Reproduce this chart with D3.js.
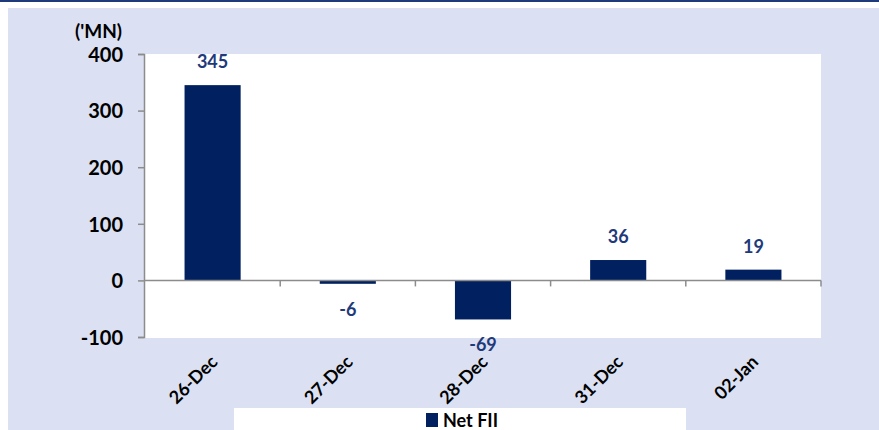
<!DOCTYPE html>
<html><head><meta charset="utf-8">
<script src="https://cdn.jsdelivr.net/npm/d3@7"></script>
<style>
html,body{margin:0;padding:0;background:#fff;}
svg{display:block;font-family:Lato,"Open Sans",sans-serif;}
</style></head>
<body>
<svg id="c" width="879" height="430"></svg>
<script>
const categories = ["26-Dec","27-Dec","28-Dec","31-Dec","02-Jan"];
const netFII = [345,-6,-69,36,19];
const yTicks = [-100,0,100,200,300,400];
const seriesName = "Net FII";
const unitLabel = "('MN)";

const svg = d3.select("#c");
const W = 879, H = 430;
const navy = "#002060";
const bg = "#dbe1f2";
const fmt = d => String(d); // plain hyphen minus

svg.append("rect").attr("x",0).attr("y",0).attr("width",W).attr("height",2).attr("fill","#1f3a7a");
svg.append("rect").attr("x",8).attr("y",8).attr("width",W-8).attr("height",H-8).attr("fill",bg);

const plot = {l:145, r:821, t:54, b:338};
const x = d3.scaleBand().domain(categories).range([plot.l, plot.r]).paddingInner(0.585).paddingOuter(0.2925);
const xb = d3.scaleBand().domain(categories).range([plot.l, plot.r]);
const y = d3.scaleLinear().domain([-100,400]).range([plot.b-1, plot.t]);

svg.append("rect").attr("x",plot.l).attr("y",plot.t).attr("width",plot.r-plot.l).attr("height",plot.b-plot.t).attr("fill","#fff");

// legend box (behind labels)
svg.append("rect").attr("x",234).attr("y",408).attr("width",452).attr("height",22).attr("fill","#fff");
svg.append("rect").attr("x",426).attr("y",413).attr("width",12).attr("height",14).attr("fill",navy);
svg.append("text").attr("x",443).attr("y",427).attr("font-size",18).attr("font-weight","bold").attr("fill","#000").text(seriesName);

// bars
svg.selectAll(".bar").data(netFII).join("rect")
  .attr("x",(d,i)=>x(categories[i]))
  .attr("width",x.bandwidth())
  .attr("y",d=>y(Math.max(0,d)))
  .attr("height",d=>Math.abs(y(d)-y(0)))
  .attr("fill",navy);

// y axis
const ya = svg.append("g").attr("transform",`translate(${plot.l-1},0)`)
  .call(d3.axisLeft(y).tickValues(yTicks).tickSize(6).tickPadding(15).tickFormat(fmt));
ya.select(".domain").attr("stroke","#8c8c8c").attr("stroke-width",1.5);
ya.selectAll(".tick line").attr("stroke","#8c8c8c").attr("stroke-width",1.5);
ya.selectAll("text").attr("font-size",20).attr("font-weight","bold").attr("fill","#000").attr("font-family","Lato, sans-serif").attr("dy","0.36em");

// zero axis with category boundary ticks
const xa = svg.append("g").attr("transform",`translate(0,${y(0)})`);
xa.append("line").attr("x1",plot.l).attr("x2",plot.r).attr("stroke","#8c8c8c").attr("stroke-width",1.5);
const bounds = categories.map(c=>xb(c)+xb.bandwidth());
xa.selectAll(".bt").data(bounds).join("line")
  .attr("x1",d=>d).attr("x2",d=>d).attr("y1",0).attr("y2",6)
  .attr("stroke","#8c8c8c").attr("stroke-width",1.5);

// category labels
svg.selectAll(".cl").data(categories).join("text")
  .attr("transform",d=>`translate(${xb(d)+xb.bandwidth()/2+6},${plot.b+25}) rotate(-45)`)
  .attr("text-anchor","end").attr("font-size",18).attr("font-weight","bold").attr("fill","#000")
  .text(d=>d);

// data labels
svg.selectAll(".dl").data(netFII).join("text")
  .attr("x",(d,i)=>xb(categories[i])+xb.bandwidth()/2)
  .attr("y",d=> d>=0 ? y(d)-17 : y(d)+32)
  .attr("text-anchor","middle").attr("font-size",18).attr("font-weight","bold").attr("fill","#1f3a7a")
  .text(fmt);

// unit label
svg.append("text").attr("x",122).attr("y",38).attr("text-anchor","end")
  .attr("font-size",19).attr("font-weight","bold").attr("fill","#000").text(unitLabel);
</script>
</body></html>
